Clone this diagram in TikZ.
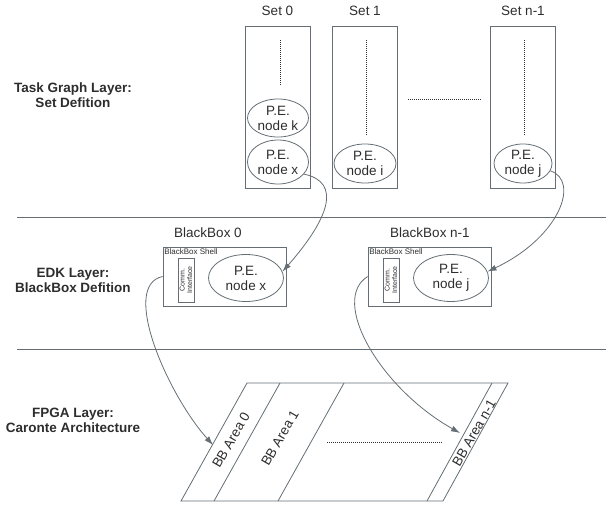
\documentclass[tikz,border=0pt]{standalone}
\usepackage{fontspec}
\setmainfont{Liberation Sans}
\usetikzlibrary{shapes.geometric,arrows.meta}
\definecolor{linegray}{RGB}{100,110,116}
\definecolor{textgray}{RGB}{45,45,45}
\begin{document}
\begin{tikzpicture}[x=1pt,y=1pt,
  every node/.style={text=textgray, font=\fontsize{13.5}{15}\selectfont},
  box/.style={draw=linegray, line width=0.8pt, rectangle, inner sep=0pt},
  pe/.style={draw=linegray, line width=0.8pt, ellipse, inner sep=0pt, align=center},
  layer/.style={align=center, font=\bfseries\fontsize{13.5}{15}\selectfont},
  dots/.style={densely dotted, draw=textgray, line width=1pt},
  link/.style={draw=linegray, line width=0.8pt, -{Latex[length=9pt,width=6pt]}}]
\useasboundingbox (0,0) rectangle (616,-506);

% layers
\draw[linegray, line width=0.8pt] (17,-217) -- (606,-217);
\draw[linegray, line width=0.8pt] (17,-349) -- (606,-349);
\node[layer] (ltask) at (73,-95) {Task Graph Layer:\\Set Defition};
\node[layer] (ledk) at (73,-280) {EDK Layer:\\BlackBox Defition};
\node[layer] (lfpga) at (73,-420) {FPGA Layer:\\Caronte Architecture};

% sets
\foreach \n/\x/\t in {set0/277.5/Set 0, set1/365/Set 1, setn/523/Set n-1}{
   \node[box, minimum width=65, minimum height=162] (\n) at (\x,-107) {};
   \node (t\n) at (\x,-11) {\t};
}
\draw[dots] (280,-40) -- (280,-85);
\draw[dots] (366,-40) -- (366,-136);
\draw[dots] (524,-40) -- (524,-136);
\draw[dots] (408,-99) -- (481,-99);

\node[pe, minimum width=61, minimum height=38] (pek) at (278,-118) {P.E.\\node k};
\node[pe, minimum width=61, minimum height=44] (pex) at (278,-162) {P.E.\\node x};
\node[pe, minimum width=62, minimum height=39] (pei) at (365,-163.5) {P.E.\\node i};
\node[pe, minimum width=58, minimum height=39] (pej) at (523,-163.5) {P.E.\\node j};

% blackboxes
\node (tbb0) at (208,-233) {BlackBox 0};
\node (tbbn) at (430,-233) {BlackBox n-1};
\node[box, minimum width=123, minimum height=59] (bbs0) at (224.5,-276.5) {};
\node[box, minimum width=123, minimum height=59] (bbsn) at (429.5,-276.5) {};
\node[anchor=north west, inner sep=1.5pt, font=\fontsize{8}{9}\selectfont] at (bbs0.north west) {BlackBox Shell};
\node[anchor=north west, inner sep=1.5pt, font=\fontsize{8}{9}\selectfont] at (bbsn.north west) {BlackBox Shell};
\node[box, minimum width=16, minimum height=44] (com0) at (186,-280) {};
\node[box, minimum width=16, minimum height=44] (comn) at (391,-280) {};
\node[rotate=90, align=center, font=\fontsize{7}{7.5}\selectfont] at (com0) {Comm.\\Interface};
\node[rotate=90, align=center, font=\fontsize{7}{7.5}\selectfont] at (comn) {Comm.\\Interface};
\node[pe, minimum width=75, minimum height=47] (bbpex) at (246,-278) {P.E.\\node x};
\node[pe, minimum width=75, minimum height=47] (bbpej) at (451,-278) {P.E.\\node j};

% fpga areas
\draw[linegray, line width=0.8pt] (181,-501) -- (247,-383) -- (508,-383) -- (443,-501) -- cycle;
\draw[linegray, line width=0.8pt] (214,-501) -- (280,-383);
\draw[linegray, line width=0.8pt] (278,-501) -- (344,-383);
\draw[linegray, line width=0.8pt] (427,-501) -- (492,-383);
\node[rotate=60] (bba0t) at (231,-440) {BB Area 0};
\node[rotate=60] (bba1t) at (280,-438) {BB Area 1};
\node[rotate=60] (bbant) at (474,-433) {BB Area n-1};
\draw[dots] (327,-442) -- (443,-442);
\coordinate (bba0) at (213,-445);
\coordinate (bban) at (460,-433);

% mappings
\draw[link] (pex.-25) .. controls +(38,-8) and +(46.5,53) .. (bbpex.10);
\draw[link] (pej.-15) .. controls +(30,-10) and +(72,34) .. (bbpej.10);
\draw[link] (bbs0.west) .. controls +(-43,-9) and +(-45,50) .. (bba0);
\draw[link] (bbsn.west) .. controls +(-38,-24) and +(-80,45) .. (bban);
\end{tikzpicture}
\end{document}
